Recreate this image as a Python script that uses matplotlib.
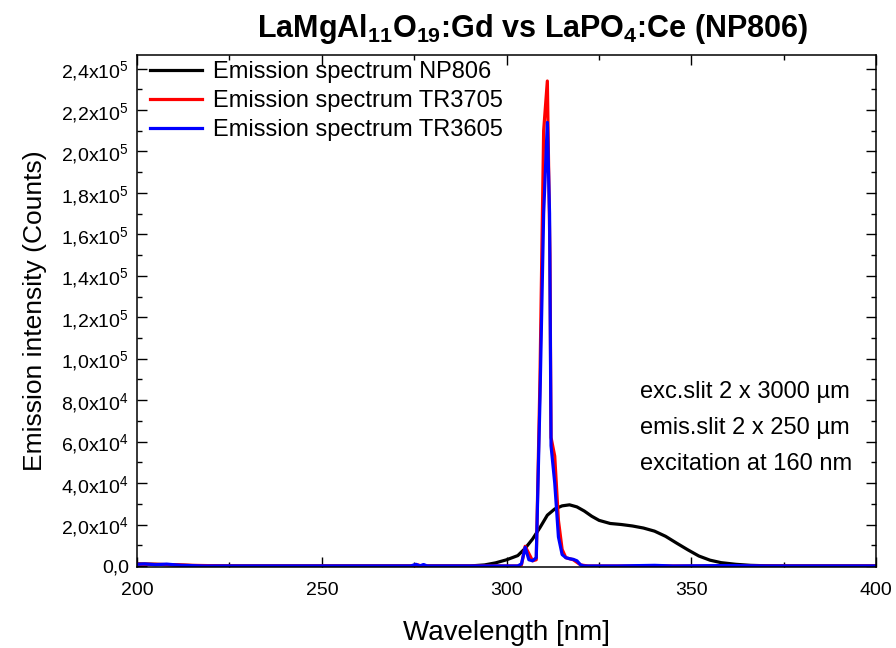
import numpy as np
import matplotlib
matplotlib.use('Agg')
import matplotlib.pyplot as plt
from matplotlib.ticker import MultipleLocator, FuncFormatter

plt.rcParams['font.family'] = ['Liberation Sans', 'DejaVu Sans']
plt.rcParams['mathtext.fontset'] = 'custom'
plt.rcParams['mathtext.rm'] = 'Liberation Sans'
plt.rcParams['mathtext.it'] = 'Liberation Sans:italic'
plt.rcParams['mathtext.bf'] = 'Liberation Sans:bold'

# Emission spectrum NP806 (black)
wl_np806 = [200, 205, 210, 215, 225, 290, 294, 297, 300, 303, 305, 307, 309, 311, 313,
            315, 317, 319, 321, 323, 325, 328, 331, 334, 337, 340, 343, 346, 349, 352,
            355, 358, 362, 366, 370, 375, 400]
int_np806 = [1000, 800, 500, 200, 0, 0, 500, 1500, 3000, 5000, 8500, 13000, 18500, 24500, 27500,
             29000, 29500, 28500, 26500, 24000, 22000, 20500, 20000, 19300, 18300, 16800, 14300, 11000, 7800, 4800,
             2800, 1600, 800, 300, 100, 0, 0]

# Emission spectrum TR3705 (red)
wl_tr3705 = [200, 205, 210, 215, 225, 274, 276, 277, 303, 304, 305, 306, 307, 308, 309,
             310, 311, 311.7, 312, 313, 314, 315, 316, 318, 320, 322, 400]
int_tr3705 = [900, 800, 600, 300, 0, 0, 500, 0, 0, 500, 9500, 6000, 2500, 3000, 90000,
              210000, 234000, 150000, 62000, 53000, 22000, 8000, 4000, 3000, 500, 0, 0]

# Emission spectrum TR3605 (blue)
wl_tr3605 = [200, 202, 205, 208, 212, 218, 274, 275.5, 276.5, 277.5, 278.5, 303, 304, 305, 306,
             307, 308, 309, 310, 311, 311.6, 312, 313, 314, 315, 316, 317, 318, 319,
             320, 321, 330, 340, 345, 360, 370, 400]
int_tr3605 = [800, 1000, 600, 900, 300, 0, 0, 800, 0, 700, 0, 0, 1000, 9000, 3000,
              2500, 4000, 80000, 170000, 214000, 170000, 58000, 40000, 14000, 5500, 4000, 3500, 3200, 2500,
              500, 0, 0, 300, 0, 200, 0, 0]

labels = ['Emission spectrum NP806', 'Emission spectrum TR3705', 'Emission spectrum TR3605']
colors = ['black', 'red', 'blue']

fig = plt.figure(figsize=(8.96, 6.48), dpi=100)
ax = fig.add_axes([0.153, 0.125, 0.825, 0.790])

ax.plot(wl_np806, int_np806, color=colors[0], lw=2.3, label=labels[0])
ax.plot(wl_tr3705, int_tr3705, color=colors[1], lw=2.3, label=labels[1])
ax.plot(wl_tr3605, int_tr3605, color=colors[2], lw=2.3, label=labels[2])

ax.set_xlim(200, 400)
ax.set_ylim(-500, 2.465e5)
ax.xaxis.set_major_locator(MultipleLocator(50))
ax.xaxis.set_minor_locator(MultipleLocator(25))
ax.yaxis.set_major_locator(MultipleLocator(2e4))
ax.yaxis.set_minor_locator(MultipleLocator(1e4))


def sci_fmt(v, pos):
    if abs(v) < 1:
        return '0,0'
    if v < 0:
        return ''
    e = int(np.floor(np.log10(v)))
    m = v / 10 ** e
    return ('%.1f' % m).replace('.', ',') + 'x10$^{%d}$' % e


ax.yaxis.set_major_formatter(FuncFormatter(sci_fmt))
ax.tick_params(which='both', direction='in', top=True, right=True, labelsize=14, width=1)
ax.tick_params(which='major', length=7, pad=6)
ax.tick_params(axis='x', which='major', pad=11)
ax.tick_params(which='minor', length=3.5)
for s in ax.spines.values():
    s.set_linewidth(1.1)

ax.set_xlabel('Wavelength [nm]', fontsize=20, labelpad=15)
ax.set_ylabel('Emission intensity (Counts)', fontsize=19, labelpad=10)

fig.text(0.595, 0.955, r'LaMgAl$_{\mathbf{11}}$O$_{\mathbf{19}}$:Gd vs LaPO$_{\mathbf{4}}$:Ce (NP806)',
         fontsize=22, fontweight='bold', ha='center', va='center')

ax.legend(loc='upper left', bbox_to_anchor=(0.0176, 0.988), frameon=False, fontsize=17,
          handlelength=2.2, handletextpad=0.45, labelspacing=0.3, borderaxespad=0, borderpad=0)

notes = ['exc.slit 2 x 3000 \u00b5m', 'emis.slit 2 x 250 \u00b5m', 'excitation at 160 nm']
for i, t in enumerate(notes):
    ax.text(0.681, 0.342 - i * 0.0705, t, transform=ax.transAxes, fontsize=17, va='center', ha='left')

fig.savefig('out.png', dpi=100)
